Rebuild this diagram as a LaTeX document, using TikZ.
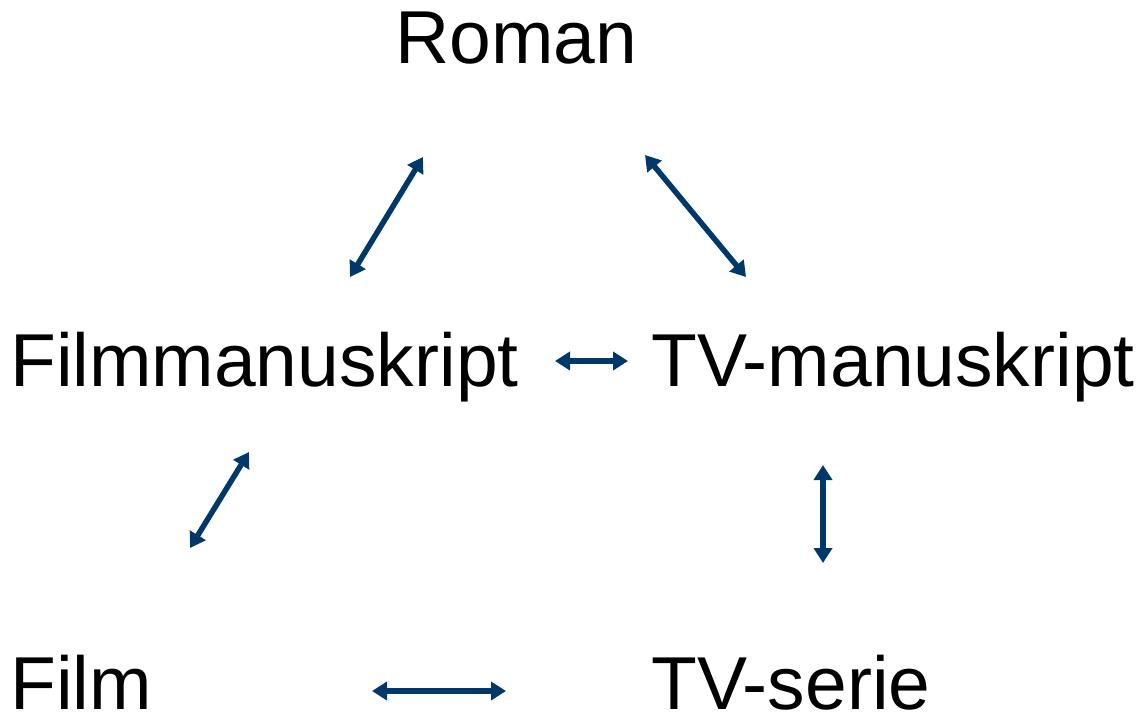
\documentclass[tikz,border=0pt]{standalone}
\usepackage{fontspec}
\setmainfont{Liberation Sans}
\usetikzlibrary{arrows.meta}
\definecolor{arr}{RGB}{0,56,106}
\begin{document}
\begin{tikzpicture}[x=1pt,y=-1pt,
  lbl/.style={inner sep=0pt,anchor=base west,font=\fontsize{75}{82}\selectfont},
  dbl/.style={arr,line width=5.5pt,{Triangle[length=15pt,width=18pt]}-{Triangle[length=15pt,width=18pt]}}]
\useasboundingbox (0,0) rectangle (1143,718);
\node[lbl] (roman) at (395,63) {Roman};
\node[lbl] (fm) at (10,386) {Filmmanuskript};
\node[lbl] (tvm) at (651,386) {TV-manuskript};
\node[lbl] (film) at (10,709) {Film};
\node[lbl] (tvs) at (651,709) {TV-serie};
\coordinate (a1) at (350,277); \coordinate (a2) at (423,157);
\coordinate (b1) at (645,155); \coordinate (b2) at (746,277);
\coordinate (c1) at (555,361); \coordinate (c2) at (628,361);
\coordinate (d1) at (249,452); \coordinate (d2) at (190,548);
\coordinate (e1) at (823,465); \coordinate (e2) at (823,563);
\coordinate (f1) at (372,691); \coordinate (f2) at (506,691);
\draw[dbl] (a1) -- (a2);
\draw[dbl] (b1) -- (b2);
\draw[dbl] (c1) -- (c2);
\draw[dbl] (d1) -- (d2);
\draw[dbl] (e1) -- (e2);
\draw[dbl] (f1) -- (f2);
\end{tikzpicture}
\end{document}
